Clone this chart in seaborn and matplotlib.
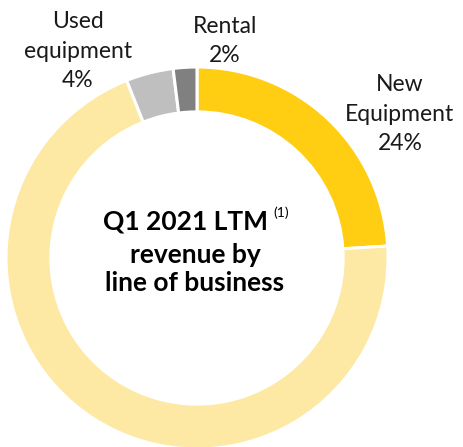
import matplotlib
matplotlib.use("Agg")
import matplotlib.pyplot as plt
import seaborn as sns

# slice data, clockwise from 12 o'clock
segments = ["New Equipment", "Product support", "Used equipment", "Rental"]
shares = [24, 70, 4, 2]
colors = ["#FFCD11", "#FDE9A3", "#BFBFBF", "#808080"]

# outside labels (None = no label shown)
labels = ["New\nEquipment\n24%", None, "Used\nequipment\n4%", "Rental\n2%"]

sns.set_theme(style="white")
plt.rcParams["font.family"] = ["Lato", "DejaVu Sans"]

W, H = 464, 447
fig = plt.figure(figsize=(W / 100, H / 100), dpi=100)
fig.patch.set_facecolor("white")

# donut centre at (197, 258) px, outer radius 191 px
cx, cy, r = 197, 258, 191
ax = fig.add_axes([(cx - r) / W, (H - cy - r) / H, 2 * r / W, 2 * r / H])
ax.pie(shares, colors=colors, startangle=90, counterclock=False, radius=1,
       wedgeprops=dict(width=0.235, edgecolor="white", linewidth=2.2))
ax.set_xlim(-1, 1)
ax.set_ylim(-1, 1)
ax.set_aspect("equal")
ax.axis("off")


def px(x, y):
    return x / W, 1 - y / H


label_pos = [(400, 114), None, (78, 51), (225, 41)]
for lab, pos in zip(labels, label_pos):
    if lab is None:
        continue
    fig.text(*px(*pos), lab, ha="center", va="center", fontsize=16.5,
             color="#1a1a1a", linespacing=1.5)

# centre title
fig.text(*px(186, 222), "Q1 2021 LTM", ha="center", va="center",
         fontsize=19, fontweight="bold", color="black")
fig.text(*px(281, 213), "(1)", ha="center", va="center", fontsize=10,
         color="black")
fig.text(*px(195, 269), "revenue by\nline of business", ha="center",
         va="center", fontsize=19, fontweight="bold", color="black",
         linespacing=1.2)

fig.savefig("out.png", dpi=100, facecolor="white")
